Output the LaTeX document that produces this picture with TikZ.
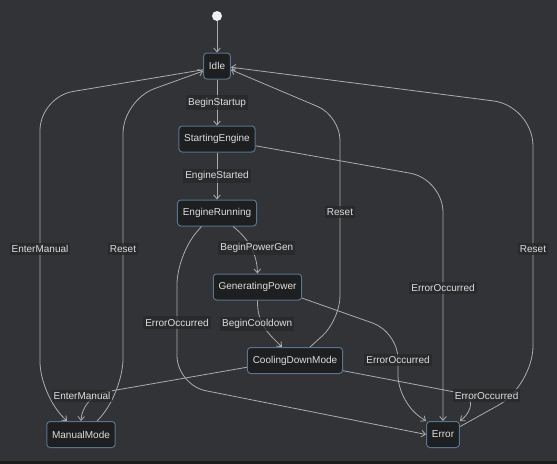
\documentclass[tikz,border=0pt]{standalone}
\usepackage{fontspec}
\setmainfont{Liberation Sans}
\usetikzlibrary{positioning}
\usetikzlibrary{arrows.meta}

\definecolor{bgcol}{RGB}{50,51,54}
\definecolor{stripcol}{RGB}{28,28,29}
\definecolor{statefill}{RGB}{30,31,33}
\definecolor{stateborder}{RGB}{88,116,142}
\definecolor{statetext}{RGB}{222,222,222}
\definecolor{transcol}{RGB}{172,172,174}
\definecolor{lblbg}{RGB}{38,39,41}

\tikzset{
state/.style={draw=stateborder, fill=statefill, text=statetext, rounded corners=2.5pt,
  line width=0.75pt, minimum height=19.5pt, inner xsep=4pt, font=\fontsize{7.5}{9}\selectfont},
startdot/.style={circle, fill=white!94!black, draw=none, minimum size=7.5pt, inner sep=0pt},
trans/.style={draw=transcol, line width=0.6pt, -{Straight Barb[length=3pt,width=5pt]}},
lbl/.style={sharp corners, draw=none, fill=lblbg, fill opacity=0.75, text opacity=1, text=statetext,
  inner xsep=1.5pt, inner ysep=2pt, font=\fontsize{7.5}{9}\selectfont}
}

\begin{document}
\begin{tikzpicture}[x=0.75pt,y=-0.75pt]
\fill[bgcol] (0,0) rectangle (557,464);
\fill[stripcol] (0,461) rectangle (557,464);
\useasboundingbox (0,0) rectangle (557,464);

\node[startdot](start) at (217,16){};
\node[state](Idle) at (217,66){Idle};
\node[state](StartingEngine) at (217,139){StartingEngine};
\node[state](EngineRunning) at (217,213){EngineRunning};
\node[state](GeneratingPower) at (257.5,287){GeneratingPower};
\node[state](CoolingDownMode) at (295,360.5){CoolingDownMode};
\node[state](ManualMode) at (81,434.5){ManualMode};
\node[state](Error) at (443,434.5){Error};

\path
(start) edge[trans] (Idle)
(Idle) edge[trans] node[lbl]{BeginStartup} (StartingEngine)
(StartingEngine) edge[trans] node[lbl]{EngineStarted} (EngineRunning);

\draw[trans] (EngineRunning.-40) .. controls (250,240) and (257,255) .. node[lbl, xshift=4pt]{BeginPowerGen} (GeneratingPower.north);
\draw[trans] (GeneratingPower.south) .. controls (257,325) and (270,335) .. node[lbl, pos=0.4, xshift=-4pt]{BeginCooldown} (CoolingDownMode.134);

% back to Idle
\draw[trans, rounded corners=25pt] (Idle.195) -- (40,97) -- node[lbl, pos=0.51]{EnterManual} (40,395) -- (ManualMode.136);
\draw[trans, rounded corners=25pt] (ManualMode.40) -- (123,392) -- node[lbl, pos=0.49]{Reset} (123,100) -- (Idle.200);
\draw[trans, rounded corners=18pt] (CoolingDownMode.42) -- (340,320) -- node[lbl, pos=0.53]{Reset} (340,116) -- (Idle.-15);
\draw[trans, rounded corners=30pt] (Error.25) -- (533,386) -- node[lbl, pos=0.49]{Reset} (533,106) -- (Idle.-5);

% errors
\draw[trans, rounded corners=22pt] (EngineRunning.221) -- (177,255) -- node[lbl, pos=0.52]{ErrorOccurred} (177,385) -- (Error.west);
\draw[trans, rounded corners=25pt] (StartingEngine.-10) -- (443,179) -- node[lbl, pos=0.45]{ErrorOccurred} (Error.north);
\draw[trans, rounded corners=20pt] (GeneratingPower.-14) -- (398,332) -- node[lbl, pos=0.4]{ErrorOccurred} (398,402) -- (Error.north west);
\draw[trans] (CoolingDownMode.-12) -- (460,393) node[lbl, xshift=20pt, yshift=-2pt]{ErrorOccurred} .. controls (474,396) and (474,410) .. (Error.north east);

\draw[trans, rounded corners=18pt] (CoolingDownMode.188) -- (82,396) node[lbl]{EnterManual} -- (ManualMode.north);
\end{tikzpicture}
\end{document}
